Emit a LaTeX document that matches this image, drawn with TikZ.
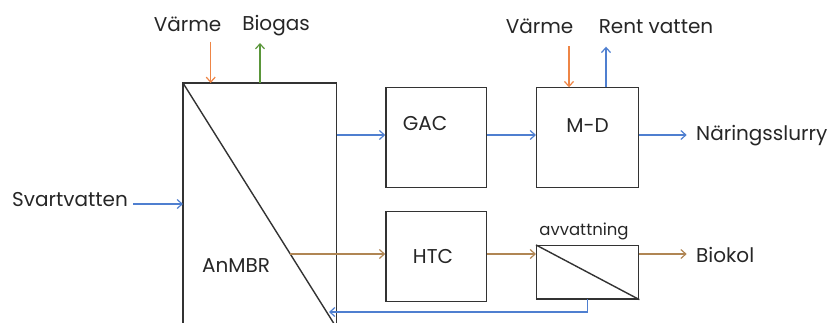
\documentclass[tikz,border=0pt]{standalone}
\usepackage{fontspec}
\setmainfont{Poppins}
\usetikzlibrary{arrows.meta}
\definecolor{cblue}{HTML}{4F7FD0}
\definecolor{corange}{HTML}{EE8546}
\definecolor{cgreen}{HTML}{5A963A}
\definecolor{cbrown}{HTML}{B08654}
\definecolor{cbox}{HTML}{333333}
\tikzset{
  box/.style={draw=cbox, line width=1.4pt},
  flow/.style={line width=1.2pt, -{Straight Barb[length=5pt,width=9pt]}},
  lbl/.style={inner sep=0pt, font=\fontsize{20}{24}\selectfont, text=black!85},
  small/.style={inner sep=0pt, font=\fontsize{16.5}{20}\selectfont, text=black!85},
}
\begin{document}
\begin{tikzpicture}[x=1pt,y=-1pt]
\useasboundingbox (0,0) rectangle (832,322);
\begin{scope}
\clip (0,0) rectangle (832,322);
% AnMBR
\draw[box] (183,83) rectangle (336.7,328);
\coordinate (antl) at (183,83);
\coordinate (anbr) at (336.7,328);
\draw[box] (antl) -- (anbr);
\end{scope}
\node[lbl] (anmbr) at (236,266) {AnMBR};
% boxes
\node[box, minimum width=100.7pt, minimum height=100pt, inner sep=0pt] (gac) at (436.3,137.3) {};
\node[lbl] (gact) at (425,123) {GAC};
\node[box, minimum width=100.7pt, minimum height=90pt, inner sep=0pt] (htc) at (436.3,256.7) {};
\node[lbl] (htct) at (433,256) {HTC};
\node[box, minimum width=102pt, minimum height=100pt, inner sep=0pt] (md) at (587.7,137.3) {};
\node[lbl] (mdt) at (587.5,126) {M-D};
\node[box, minimum width=102pt, minimum height=53.3pt, inner sep=0pt] (avv) at (587.7,272.3) {};
\draw[box] (avv.north west) -- (avv.south east);
\node[small] (avvt) at (584,231) {avvattning};
% labels
\node[lbl] (varme1) at (187.5,24) {Värme};
\node[lbl] (biogas) at (276,26) {Biogas};
\node[lbl] (svart) at (70,200) {Svartvatten};
\node[lbl] (varme2) at (539.5,26) {Värme};
\node[lbl] (rent) at (656,27) {Rent vatten};
\node[lbl, anchor=west] (nar) at (696,136) {Näringsslurry};
\node[lbl, anchor=west] (biokol) at (696,255) {Biokol};
% coordinates
\coordinate (v1s) at (210.7,41.7);
\coordinate (v1e) at (210.7,83);
\coordinate (bgs) at (260,83);
\coordinate (bge) at (260,43);
\coordinate (svs) at (133,204);
\coordinate (sve) at (183,204);
\coordinate (g1s) at (336.7,135);
\coordinate (h1s) at (290,254);
\coordinate (v2s) at (569,46);
\coordinate (v2e) at (569,87.3);
\coordinate (rvs) at (606,87.3);
\coordinate (rve) at (606,46.7);
\coordinate (ne) at (686.7,135);
\coordinate (be) at (686.7,254);
\coordinate (rs) at (587.7,299);
\coordinate (rc) at (587.7,312);
\coordinate (re) at (329,312);
% flows
\draw[flow, corange] (v1s) -- (v1e);
\draw[flow, cgreen] (bgs) -- (bge);
\draw[flow, cblue] (svs) -- (sve);
\draw[flow, cblue] (g1s) -- (g1s -| gac.west);
\draw[flow, cbrown] (h1s) -- (h1s -| htc.west);
\draw[flow, cblue] (gac.east |- g1s) -- (md.west |- g1s);
\draw[flow, cbrown] (htc.east |- h1s) -- (avv.west |- h1s);
\draw[flow, corange] (v2s) -- (v2e);
\draw[flow, cblue] (rvs) -- (rve);
\draw[flow, cblue] (md.east |- ne) -- (ne);
\draw[flow, cbrown] (avv.east |- be) -- (be);
\draw[flow, cblue] (rs) -- (rc) -- (re);
\end{tikzpicture}
\end{document}
